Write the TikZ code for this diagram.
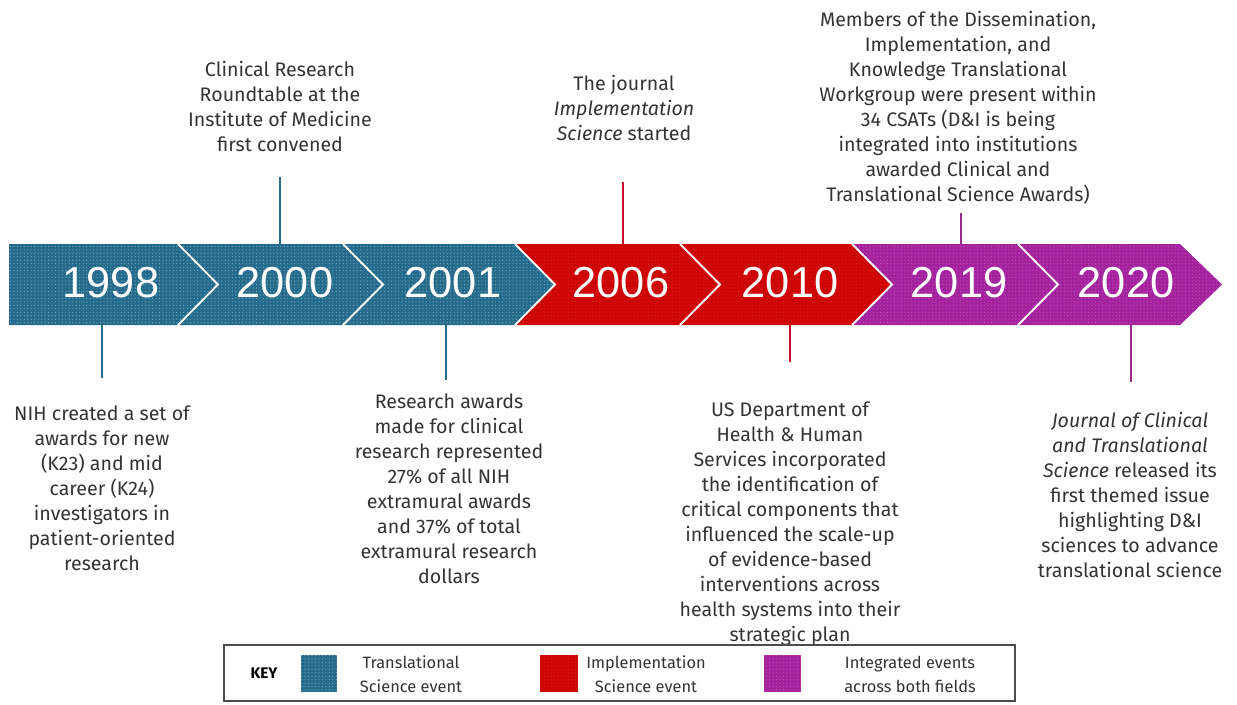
\documentclass[tikz,border=0pt]{standalone}
\usepackage{fontspec}
\setmainfont{Fira Sans}
\newfontfamily\yearfont{Liberation Sans}
\usetikzlibrary{patterns.meta}
\definecolor{tblue}{HTML}{246B8C}
\definecolor{ired}{HTML}{CE0505}
\definecolor{bpurp}{HTML}{A5229E}
\definecolor{txt}{HTML}{333333}
\definecolor{redline}{HTML}{C8102E}
\definecolor{purpline}{HTML}{9B2A8A}
\tikzset{
  transl/.style={fill=tblue, postaction={pattern={Dots[radius=0.45pt,distance=2.6pt]}, pattern color=tblue!55!white}},
  impl/.style={fill=ired, postaction={pattern={Dots[radius=0.4pt,distance=2.6pt]}, pattern color=ired!88!white}},
  integ/.style={fill=bpurp, postaction={pattern={Dots[radius=0.4pt,distance=2.6pt]}, pattern color=bpurp!70!white}},
  sep/.style={draw=white, line width=1.4pt},
  year/.style={font=\yearfont\fontsize{32.5}{36}\selectfont, text=white},
  evt/.style={font=\fontsize{14.7}{18.75}\selectfont, text=txt, align=center},
  keytxt/.style={font=\fontsize{12.3}{18}\selectfont, text=txt, align=center},
  conn/.style={line width=1.1pt},
}
\begin{document}
\begin{tikzpicture}[x=0.75pt,y=-0.75pt]
\useasboundingbox (0,0) rectangle (1237,704);
% band geometry
\def\T{244}\def\B{325}\def\M{284.5}\def\D{40}
% chevron pieces
\fill[transl] (9,\T) -- (178,\T) -- (218,\M) -- (178,\B) -- (9,\B) -- cycle;
\fill[transl] (178,\T) -- (343,\T) -- (383,\M) -- (343,\B) -- (178,\B) -- (218,\M) -- cycle;
\fill[transl] (343,\T) -- (515,\T) -- (555,\M) -- (515,\B) -- (343,\B) -- (383,\M) -- cycle;
\fill[impl] (515,\T) -- (680,\T) -- (720,\M) -- (680,\B) -- (515,\B) -- (555,\M) -- cycle;
\fill[impl] (680,\T) -- (852,\T) -- (892,\M) -- (852,\B) -- (680,\B) -- (720,\M) -- cycle;
\fill[integ] (852,\T) -- (1018,\T) -- (1058,\M) -- (1018,\B) -- (852,\B) -- (892,\M) -- cycle;
\fill[integ] (1018,\T) -- (1180,\T) -- (1222,\M) -- (1180,\B) -- (1018,\B) -- (1058,\M) -- cycle;
% white separators
\foreach \b in {178,343,515,680,852,1018}{
  \draw[sep] (\b,\T) -- (\b+\D,\M) -- (\b,\B);
}
% years
\node[year] (y1998) at (111,283) {1998};
\node[year] (y2000) at (285,283) {2000};
\node[year] (y2001) at (453,283) {2001};
\node[year] (y2006) at (621,283) {2006};
\node[year] (y2010) at (790,283) {2010};
\node[year] (y2019) at (959,283) {2019};
\node[year] (y2020) at (1126,283) {2020};
% events above
\node[evt] (e2000) at (280,106) {Clinical Research\\Roundtable at the\\Institute of Medicine\\first convened};
\node[evt] (e2006) at (624,108) {The journal\\\textit{Implementation}\\\textit{Science} started};
\node[evt] (e2019) at (958,108) {Members of the Dissemination,\\Implementation, and\\Knowledge Translational\\Workgroup were present within\\34 CSATs (D\&I is being\\integrated into institutions\\awarded Clinical and\\Translational Science Awards)};
% events below
\node[evt] (e1998) at (102,488) {NIH created a set of\\awards for new\\(K23) and mid\\career (K24)\\investigators in\\patient-oriented\\research};
\node[evt] (e2001) at (449,489) {Research awards\\made for clinical\\research represented\\27\% of all NIH\\extramural awards\\and 37\% of total\\extramural research\\dollars};
\node[evt] (e2010) at (790,524) {US Department of\\Health \& Human\\Services incorporated\\the identification of\\critical components that\\influenced the scale-up\\of evidence-based\\interventions across\\health systems into their\\strategic plan};
\node[evt] (e2020) at (1130,495) {\textit{Journal of Clinical}\\\textit{and Translational}\\\textit{Science} released its\\first themed issue\\highlighting D\&I\\sciences to advance\\translational science};
% connector anchor points
\coordinate (a2000) at (280,177); \coordinate (b2000) at (280,\T);
\coordinate (a2006) at (623,182); \coordinate (b2006) at (623,\T);
\coordinate (a2019) at (961,213); \coordinate (b2019) at (961,\T);
\coordinate (a1998) at (102,\B); \coordinate (b1998) at (102,378);
\coordinate (a2001) at (446,\B); \coordinate (b2001) at (446,380);
\coordinate (a2010) at (790,\B); \coordinate (b2010) at (790,362);
\coordinate (a2020) at (1131,\B); \coordinate (b2020) at (1131,382);
\draw[conn, tblue] (a2000) -- (b2000);
\draw[conn, redline] (a2006) -- (b2006);
\draw[conn, purpline] (a2019) -- (b2019);
\draw[conn, tblue] (a1998) -- (b1998);
\draw[conn, tblue] (a2001) -- (b2001);
\draw[conn, redline] (a2010) -- (b2010);
\draw[conn, purpline] (a2020) -- (b2020);
% key
\node[draw=black!70, line width=0.8pt, minimum width=791*0.75pt, minimum height=56*0.75pt, inner sep=0pt] (keybox) at (619.5,673) {};
\node[font=\bfseries\fontsize{11.5}{14}\selectfont, text=black] (keylab) at (264,673) {KEY};
\fill[transl] (301,655) rectangle (337,692);
\node[inner sep=0pt, minimum size=37*0.75pt] (sqT) at (319,673.5) {};
\fill[impl] (540,655) rectangle (578,692);
\node[inner sep=0pt, minimum size=37*0.75pt] (sqI) at (559,673.5) {};
\fill[integ] (764,655) rectangle (801,692);
\node[inner sep=0pt, minimum size=37*0.75pt] (sqG) at (782.5,673.5) {};
\node[keytxt] (kT) at (411,674) {Translational\\Science event};
\node[keytxt] (kI) at (646,674) {Implementation\\Science event};
\node[keytxt] (kG) at (910,674) {Integrated events\\across both fields};
\end{tikzpicture}
\end{document}
